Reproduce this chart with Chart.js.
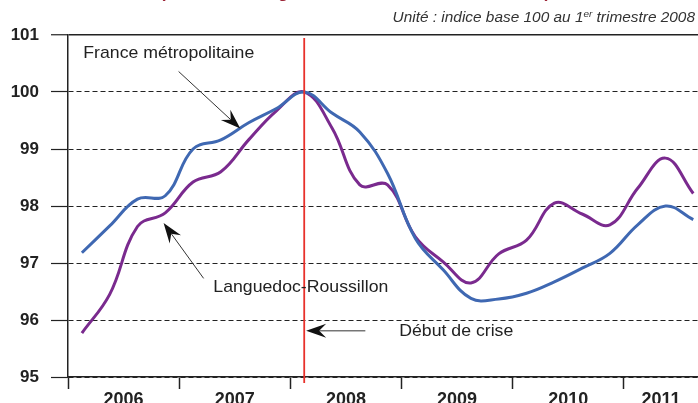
<!DOCTYPE html>
<html>
<head>
<meta charset="utf-8">
<script src="https://cdn.jsdelivr.net/npm/chart.js@4.4.1/dist/chart.umd.min.js"></script>
<style>
    html, body { margin: 0; padding: 0; background: #fff; }
    #wrap { width: 698px; height: 403px; }
</style>
</head>
<body>
<div id="wrap"><canvas id="empChart" width="698" height="403"></canvas></div>
<script>
// quarterly index, base 100 = 1st quarter 2008
const quarters = [
    '2006T1', '2006T2', '2006T3', '2006T4',
    '2007T1', '2007T2', '2007T3', '2007T4',
    '2008T1', '2008T2', '2008T3', '2008T4',
    '2009T1', '2009T2', '2009T3', '2009T4',
    '2010T1', '2010T2', '2010T3', '2010T4',
    '2011T1', '2011T2', '2011T3'
];
const france = [
    97.18, 97.65, 98.12, 98.18,
    99.00, 99.16, 99.46, 99.71,
    100.00, 99.63, 99.30, 98.57,
    97.43, 96.88, 96.38, 96.37,
    96.47, 96.67, 96.91, 97.17,
    97.67, 98.00, 97.76
];
const languedoc = [
    95.77, 96.45, 97.64, 97.88,
    98.42, 98.60, 99.16, 99.67,
    100.00, 99.37, 98.37, 98.37,
    97.46, 97.02, 96.65, 97.16,
    97.40, 98.05, 97.86, 97.67,
    98.31, 98.84, 98.22
];
const years = ['2006', '2007', '2008', '2009', '2010', '2011'];
const yTicks = [95, 96, 97, 98, 99, 100, 101];
const crisisQuarter = '2008T1';

const X_MIN = -0.5;
const X_MAX = 22.17;

// year boundaries get a tick mark, year labels sit in the middle of the visible part
const boundaryTicks = years.map((y, i) => i * 4 - 0.5);
const labelTicks = {};
years.forEach((y, i) => {
    const start = i * 4 - 0.5;
    const end = Math.min(start + 4, X_MAX);
    labelTicks[((start + end) / 2).toFixed(3)] = y;
});

const ink = '#222';
const fontFamily = '"Liberation Sans", Arial, sans-serif';

function arrow(ctx, x1, y1, x2, y2) {
    const ang = Math.atan2(y2 - y1, x2 - x1);
    const len = 20, half = 7, notch = 13;
    ctx.save();
    ctx.strokeStyle = '#333';
    ctx.fillStyle = '#111';
    ctx.lineWidth = 1;
    ctx.beginPath();
    ctx.moveTo(x1, y1);
    ctx.lineTo(x2 - Math.cos(ang) * notch, y2 - Math.sin(ang) * notch);
    ctx.stroke();
    ctx.translate(x2, y2);
    ctx.rotate(ang);
    ctx.beginPath();
    ctx.moveTo(0, 0);
    ctx.lineTo(-len, -half);
    ctx.lineTo(-notch, 0);
    ctx.lineTo(-len, half);
    ctx.closePath();
    ctx.fill();
    ctx.restore();
}

// text drawn a little wider than the font, like the original
function wideText(ctx, text, x, y, stretch) {
    ctx.save();
    ctx.translate(x, y);
    ctx.scale(stretch, 1);
    ctx.fillText(text, 0, 0);
    ctx.restore();
}

const notes = [
    { text: 'France métropolitaine', at: [0.05, 100.68], from: [3.48, 100.36], to: [5.70, 99.36] },
    { text: 'Languedoc-Roussillon', at: [4.73, 96.58], from: [4.38, 96.73], to: [2.94, 97.70] },
    { text: 'Début de crise', at: [11.42, 95.81], from: [10.2, 95.81], to: [8.07, 95.81] }
];

const decorations = {
    id: 'decorations',
    afterDatasetsDraw(chart) {
        const { ctx, chartArea, scales: { x, y } } = chart;
        const cx = x.getPixelForValue(quarters.indexOf(crisisQuarter));
        ctx.save();
        ctx.strokeStyle = '#e8312b';
        ctx.lineWidth = 1.8;
        ctx.beginPath();
        ctx.moveTo(cx, chartArea.top + 3);
        ctx.lineTo(cx, chartArea.bottom + 6);
        ctx.stroke();

        ctx.font = '17px ' + fontFamily;
        ctx.fillStyle = ink;
        ctx.textBaseline = 'middle';
        ctx.textAlign = 'left';
        notes.forEach(n => {
            wideText(ctx, n.text, x.getPixelForValue(n.at[0]), y.getPixelForValue(n.at[1]), 1.04);
            arrow(ctx,
                x.getPixelForValue(n.from[0]), y.getPixelForValue(n.from[1]),
                x.getPixelForValue(n.to[0]), y.getPixelForValue(n.to[1]));
        });
        ctx.restore();
    },
    afterDraw(chart) {
        const { ctx, width } = chart;
        ctx.save();
        // title line, cut off by the top of the picture
        ctx.font = 'bold 17px ' + fontFamily;
        ctx.fillStyle = '#9b2335';
        ctx.textAlign = 'left';
        ctx.textBaseline = 'alphabetic';
        wideText(ctx, '(données corrigées des variations saisonnières)', 160, -2, 1.0);

        // unit note, right aligned
        const stretch = 1.1;
        const head = 'Unité : indice base 100 au 1';
        const sup = 'er';
        const tail = ' trimestre 2008';
        ctx.fillStyle = '#333';
        ctx.font = 'italic 14px ' + fontFamily;
        const wHead = ctx.measureText(head).width * stretch;
        const wTail = ctx.measureText(tail).width * stretch;
        ctx.font = 'italic 9px ' + fontFamily;
        const wSup = ctx.measureText(sup).width * stretch;
        let px = width - 3 - wTail - wSup - wHead;
        ctx.font = 'italic 14px ' + fontFamily;
        wideText(ctx, head, px, 22, stretch);
        px += wHead;
        ctx.font = 'italic 9px ' + fontFamily;
        wideText(ctx, sup, px, 17, stretch);
        px += wSup;
        ctx.font = 'italic 14px ' + fontFamily;
        wideText(ctx, tail, px, 22, stretch);
        ctx.restore();
    }
};

const empChart = new Chart('empChart', {
    type: 'line',
    data: {
        datasets: [
            {
                label: 'France métropolitaine',
                data: france.map((v, i) => ({ x: i, y: v })),
                borderColor: '#3f68b2',
                borderWidth: 3,
                pointRadius: 0,
                tension: 0.4,
                fill: false
            },
            {
                label: 'Languedoc-Roussillon',
                data: languedoc.map((v, i) => ({ x: i, y: v })),
                borderColor: '#7a2a8e',
                borderWidth: 3,
                pointRadius: 0,
                tension: 0.4,
                fill: false
            }
        ]
    },
    options: {
        responsive: false,
        animation: false,
        devicePixelRatio: 1,
        layout: { padding: { top: 35, left: 0, right: 0, bottom: 0 } },
        plugins: {
            legend: { display: false },
            tooltip: { enabled: false }
        },
        scales: {
            x: {
                type: 'linear',
                min: X_MIN,
                max: X_MAX,
                afterBuildTicks: (scale) => {
                    const vals = boundaryTicks.concat(Object.keys(labelTicks).map(Number));
                    vals.sort((a, b) => a - b);
                    scale.ticks = vals.map(v => ({ value: v }));
                },
                afterFit: (scale) => { scale.height = 26; },
                ticks: {
                    autoSkip: false,
                    maxRotation: 0,
                    padding: 0,
                    color: ink,
                    font: { family: fontFamily, size: 18, weight: 'bold' },
                    callback: (v) => labelTicks[Number(v).toFixed(3)] || ''
                },
                grid: {
                    drawOnChartArea: false,
                    drawTicks: true,
                    tickLength: 12,
                    tickWidth: 1.5,
                    tickColor: (c) => (c.tick && labelTicks[c.tick.value.toFixed(3)]) ? 'rgba(0,0,0,0)' : ink
                },
                border: { color: ink, width: 1.5 }
            },
            y: {
                min: 95,
                max: 101,
                afterBuildTicks: (scale) => {
                    scale.ticks = yTicks.map(v => ({ value: v }));
                },
                afterFit: (scale) => { scale.width = 68; },
                ticks: {
                    padding: 12,
                    color: ink,
                    font: { family: fontFamily, size: 17, weight: 'bold' }
                },
                grid: {
                    color: ink,
                    lineWidth: (c) => (c.tick && c.tick.value === 101) ? 1.5 : 1,
                    tickLength: 17,
                    tickWidth: 1.2,
                    tickColor: ink,
                    tickBorderDash: []
                },
                border: {
                    color: ink,
                    width: 1.5,
                    dash: (c) => (c.tick && c.tick.value === 101) ? [] : [5, 3]
                }
            }
        }
    },
    plugins: [decorations]
});
</script>
</body>
</html>
